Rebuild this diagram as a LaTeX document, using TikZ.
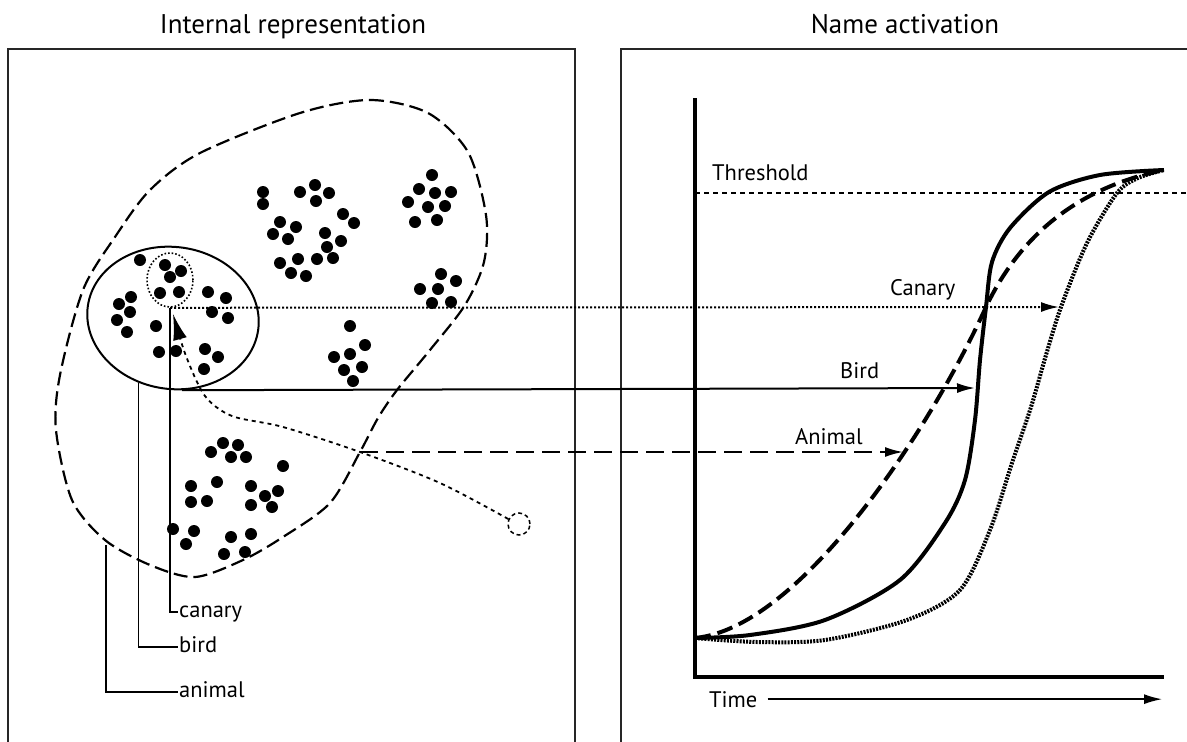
\documentclass[tikz,border=0pt]{standalone}
\usepackage{fontspec}
\setmainfont{PT Sans}
\usetikzlibrary{arrows.meta,shapes.geometric}

\begin{document}
\begin{tikzpicture}[x=1pt,y=-1pt,
    >={Latex[length=18pt,width=10pt]},
    frame/.style={line width=2pt,black!85},
    title/.style={anchor=base,inner sep=0pt,font=\fontsize{27}{31}\selectfont},
    cue/.style={anchor=base west,inner sep=0pt,font=\fontsize{22.5}{26}\selectfont},
    tag/.style={anchor=west,inner sep=1pt,text height=11pt,text depth=0pt,font=\fontsize{22.5}{26}\selectfont},
    lead/.style={line width=1.5pt},
    canaryline/.style={line width=2pt,dash pattern=on 2pt off 2pt},
    animalline/.style={line width=2.2pt,dash pattern=on 14pt off 6pt},
    animalarrow/.style={line width=1.8pt,dash pattern=on 18pt off 8pt},
    curve/.style={line width=4pt}]
    \useasboundingbox (0,0) rectangle (1187,742);

    % Titles
    \node[title] (lefttitle) at (293,33) {Internal representation};
    \node[title] (righttitle) at (905,33) {Name activation};

    % Panels
    \draw[frame] (8,742) -- (8,49) -- (575,49) -- (575,742);
    \draw[frame] (621,742) -- (621,49) -- (1190,49);

    % Animal region (dashed outline)
    \draw[animalline] plot[smooth cycle] coordinates {(300,113) (370,100) (428,113) (468,152)
        (486,215) (484,262) (465,305) (430,350) (397,390) (378,418) (360,452) (330,503)
        (283,537) (243,560) (195,577) (150,565) (105,540) (72,500) (56,430) (60,375)
        (83,290) (115,237) (150,190) (200,153)};

    % Bird and canary regions
    \node[ellipse,draw,line width=2pt,minimum width=172,minimum height=142,rotate=-8] (bird) at (173,318) {};
    \node[ellipse,draw,line width=1.6pt,dash pattern=on 1.6pt off 2pt,minimum width=46,minimum height=54] (canary) at (170,280) {};

    % Exemplars
    \foreach \x/\y in {165/265,181/271,170/277,160/293,179/292,140/260,131/297,119/304,130/312,
        117/320,127/332,156/326,208/292,226/298,212/312,228/318,159/352,176/351,205/349,218/357,204/369,
        263/192,263/204,300/192,315/185,329/193,316/201,280/222,296/227,273/234,288/239,343/214,354/223,
        325/233,341/241,327/247,280/263,298/259,291/273,306/276,317/259,333/258,
        432/175,419/189,435/193,451/192,408/202,428/207,445/206,415/222,437/220,
        441/274,456/281,420/289,438/289,432/303,451/302,
        350/326,365/345,334/357,350/354,362/367,344/370,353/381,
        211/452,223/443,238/445,231/457,246/457,283/466,191/486,217/482,191/502,207/501,
        251/486,265/496,278/491,251/505,272/507,173/529,194/531,186/544,231/537,251/534,224/554,245/552}
        \fill (\x,\y) circle (6);

    % Probe moving towards the canary
    \node[circle,draw,line width=1.5pt,dash pattern=on 4pt off 3pt,minimum size=22] (probe) at (519,524) {};
    \coordinate (query) at (173,314);
    \draw[line width=1.8pt,dash pattern=on 4pt off 4pt,-{Latex[length=26pt,width=14pt]}] plot[smooth] coordinates {(probe.155) (440,483) (360,452)
        (283,427) (232,416) (205,396) (186,356) (query)};

    % Category labels
    \coordinate (animalfoot) at (106,545);
    \node[tag] (canarylab) at (178,612) {canary};
    \node[tag] (birdlab) at (178,647) {bird};
    \node[tag] (animallab) at (178,692) {animal};
    \draw[lead] (canary.south) |- (canarylab.west);
    \draw[lead] (bird.-110) |- (birdlab.west);
    \draw[lead] (animalfoot) |- (animallab.west);

    % Axes
    \draw[line width=3.5pt] (695,98) -- (695,677) -- (1164,677);
    \node[cue] (time) at (709,707) {Time};
    \coordinate (timeend) at (1162,700);
    \draw[lead,->] ([xshift=10pt]time.east) -- (time.east -| timeend);

    % Threshold
    \draw[line width=1.5pt,dash pattern=on 5pt off 4pt] (695,193) -- (1190,193);
    \node[cue] (threshold) at (712,180) {Threshold};

    % Activation curves
    \coordinate (rest) at (695,638);
    \coordinate (peak) at (1164,170);
    \draw[curve,dash pattern=on 16pt off 7pt] (rest) .. controls (800,628) and (930,430) .. (986,307)
        .. controls (1025,225) and (1090,185) .. (peak);
    \draw[curve] plot[smooth] coordinates {(rest) (750,635) (825,620) (900,580) (945,523) (965,480)
        (975,420) (980,360) (986,307) (992,262) (1010,228) (1049,192) (1100,175) (peak)};
    \draw[curve,dash pattern=on 2pt off 1.2pt] plot[smooth] coordinates {(rest) (757,642) (825,640) (907,620) (960,590)
        (990,530) (1012,463) (1031,407) (1046,355) (1061,307) (1087,243) (1117,193) (1138,178) (peak)};

    % Name activation arrows
    \coordinate (canaryend) at (1059,307);
    \coordinate (birdend) at (975,388);
    \coordinate (animalout) at (360,452);
    \coordinate (animalend) at (903,452);
    \draw[canaryline,->] (canary.south) -- (canaryend);
    \draw[lead,line width=2pt,->] (bird.-75) -- (birdend);
    \draw[animalarrow,->] (animalout) -- (animalend);
    \node[cue] (canarytext) at (890,295) {Canary};
    \node[cue] (birdtext) at (840,378) {Bird};
    \node[cue] (animaltext) at (795,444) {Animal};

  \end{tikzpicture}
\end{document}
